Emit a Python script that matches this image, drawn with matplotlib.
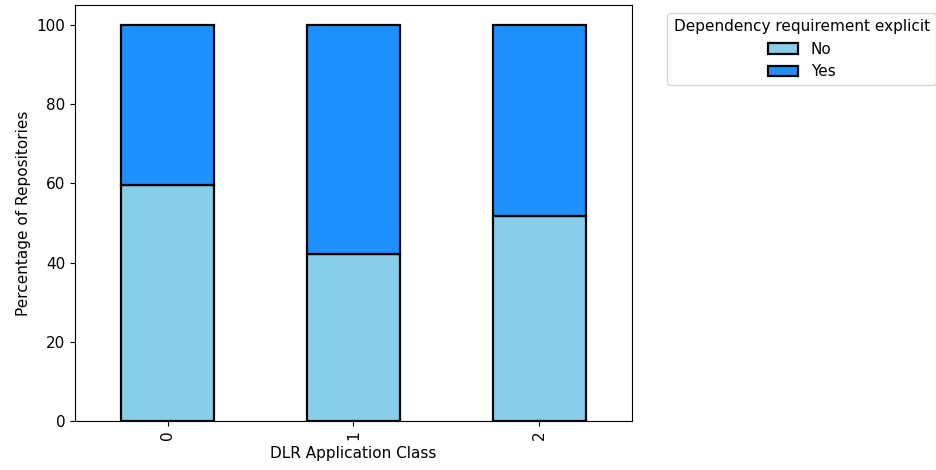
import matplotlib
matplotlib.use("Agg")
import matplotlib.pyplot as plt
import numpy as np

classes = ["0", "1", "2"]
no_pct = [59.7, 42.2, 51.8]
yes_pct = [100 - v for v in no_pct]

fig = plt.figure(figsize=(9.37, 4.7), dpi=100)
ax = fig.add_axes([0.080, 0.104, 0.5945, 0.885])

x = np.arange(len(classes))
ax.bar(x, no_pct, width=0.5, color="skyblue", edgecolor="black",
       linewidth=1.6, label="No")
ax.bar(x, yes_pct, width=0.5, bottom=no_pct, color="dodgerblue",
       edgecolor="black", linewidth=1.6, label="Yes")

ax.set_xticks(x)
ax.set_xticklabels(classes, rotation=90)
ax.set_xlim(-0.5, 2.5)
ax.tick_params(axis='both', labelsize=11)
ax.set_xlabel("DLR Application Class", fontsize=11)
ax.set_ylabel("Percentage of Repositories", fontsize=11)

ax.legend(title="Dependency requirement explicit", fontsize=11,
          title_fontsize=11, bbox_to_anchor=(1.05, 1), loc="upper left")

fig.savefig("out.png", dpi=100)
